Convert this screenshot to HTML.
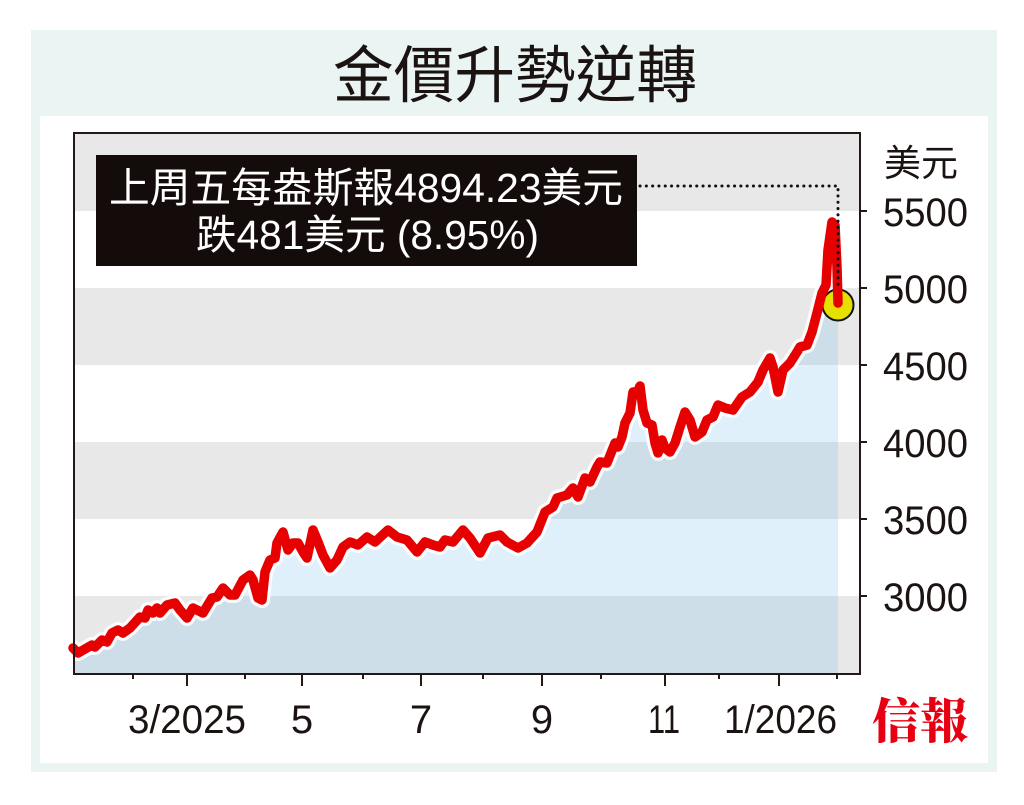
<!DOCTYPE html>
<html><head><meta charset="utf-8"><style>
html,body{margin:0;padding:0;background:#fff;}
svg{display:block;}
</style></head><body>
<svg width="1024" height="805" viewBox="0 0 1024 805" xmlns="http://www.w3.org/2000/svg">
<rect x="0" y="0" width="1024" height="805" fill="#ffffff"/>
<rect x="31" y="30" width="966" height="742" fill="#eaf4f3"/>
<rect x="40" y="116" width="948" height="647" fill="#ffffff"/>
<text x="515" y="97" text-anchor="middle" font-family="'Noto Sans CJK TC','Noto Sans CJK SC',sans-serif" font-size="62" font-weight="400" fill="#1a1311" textLength="364" lengthAdjust="spacingAndGlyphs">金價升勢逆轉</text>
<!-- bands -->
<rect x="74" y="133" width="786" height="541" fill="#ffffff"/>
<rect x="74" y="133" width="786" height="78" fill="#e8e8e8"/>
<rect x="74" y="288" width="786" height="77" fill="#e8e8e8"/>
<rect x="74" y="442" width="786" height="77" fill="#e8e8e8"/>
<rect x="74" y="596" width="786" height="78" fill="#e8e8e8"/>
<!-- fill -->
<polygon fill="rgba(110,187,232,0.22)" points="74,674 73,648 78,653 85,649 92,645 95,647 102,640 107,642 112,633 118,630 123,633 130,628 140,617 145,618 148,610 153,613 157,608 160,613 167,605 175,603 180,610 187,618 193,608 203,613 212,598 217,597 223,588 230,595 235,595 243,580 250,575 253,580 258,598 262,600 265,572 270,560 275,558 277,543 283,532 288,550 293,543 298,543 303,552 307,558 313,530 318,542 323,555 330,568 337,560 343,547 350,542 358,545 367,537 375,542 388,530 397,537 407,540 417,552 425,542 433,545 440,547 445,540 453,542 463,530 470,538 480,553 488,538 500,535 507,542 518,548 527,543 537,532 545,512 553,507 557,498 567,495 573,488 578,497 585,478 590,482 597,467 600,462 607,463 615,443 618,447 622,437 625,423 630,413 633,392 637,393 640,386 643,410 647,423 652,425 655,443 658,453 662,440 665,448 670,452 675,443 680,427 685,412 690,420 695,437 702,432 707,420 713,417 718,405 725,408 733,410 742,397 750,392 758,382 763,370 770,358 773,367 778,392 783,370 790,363 797,352 800,347 807,345 812,332 817,313 822,293 826,285 828,250 832,222 835,225 837,267 838,303 838,674"/>
<!-- halo -->
<polyline fill="none" stroke="#ffffff" stroke-opacity="0.85" stroke-width="16" stroke-linejoin="round" stroke-linecap="round" points="73,648 78,653 85,649 92,645 95,647 102,640 107,642 112,633 118,630 123,633 130,628 140,617 145,618 148,610 153,613 157,608 160,613 167,605 175,603 180,610 187,618 193,608 203,613 212,598 217,597 223,588 230,595 235,595 243,580 250,575 253,580 258,598 262,600 265,572 270,560 275,558 277,543 283,532 288,550 293,543 298,543 303,552 307,558 313,530 318,542 323,555 330,568 337,560 343,547 350,542 358,545 367,537 375,542 388,530 397,537 407,540 417,552 425,542 433,545 440,547 445,540 453,542 463,530 470,538 480,553 488,538 500,535 507,542 518,548 527,543 537,532 545,512 553,507 557,498 567,495 573,488 578,497 585,478 590,482 597,467 600,462 607,463 615,443 618,447 622,437 625,423 630,413 633,392 637,393 640,386 643,410 647,423 652,425 655,443 658,453 662,440 665,448 670,452 675,443 680,427 685,412 690,420 695,437 702,432 707,420 713,417 718,405 725,408 733,410 742,397 750,392 758,382 763,370 770,358 773,367 778,392 783,370 790,363 797,352 800,347 807,345 812,332 817,313 822,293 826,285 828,250 832,222 835,225 837,267 838,303"/>
<!-- circle -->
<circle cx="838" cy="305" r="15.5" fill="#e6e000" stroke="#111" stroke-width="2"/>
<!-- red line -->
<polyline fill="none" stroke="#e60000" stroke-width="9.5" stroke-linejoin="round" stroke-linecap="round" points="73,648 78,653 85,649 92,645 95,647 102,640 107,642 112,633 118,630 123,633 130,628 140,617 145,618 148,610 153,613 157,608 160,613 167,605 175,603 180,610 187,618 193,608 203,613 212,598 217,597 223,588 230,595 235,595 243,580 250,575 253,580 258,598 262,600 265,572 270,560 275,558 277,543 283,532 288,550 293,543 298,543 303,552 307,558 313,530 318,542 323,555 330,568 337,560 343,547 350,542 358,545 367,537 375,542 388,530 397,537 407,540 417,552 425,542 433,545 440,547 445,540 453,542 463,530 470,538 480,553 488,538 500,535 507,542 518,548 527,543 537,532 545,512 553,507 557,498 567,495 573,488 578,497 585,478 590,482 597,467 600,462 607,463 615,443 618,447 622,437 625,423 630,413 633,392 637,393 640,386 643,410 647,423 652,425 655,443 658,453 662,440 665,448 670,452 675,443 680,427 685,412 690,420 695,437 702,432 707,420 713,417 718,405 725,408 733,410 742,397 750,392 758,382 763,370 770,358 773,367 778,392 783,370 790,363 797,352 800,347 807,345 812,332 817,313 822,293 826,285 828,250 832,222 835,225 837,267 838,303"/>
<!-- dotted leader -->
<path d="M640 186 H838 V290" fill="none" stroke="#111" stroke-width="3" stroke-linecap="round" stroke-dasharray="0.1 6.2"/>
<!-- frame -->
<rect x="74" y="133" width="786" height="541" fill="none" stroke="#231815" stroke-width="2"/>
<!-- ticks -->
<g stroke="#231815" stroke-width="2">
<line x1="860" y1="211" x2="867" y2="211"/>
<line x1="860" y1="288" x2="867" y2="288"/>
<line x1="860" y1="365" x2="867" y2="365"/>
<line x1="860" y1="442" x2="867" y2="442"/>
<line x1="860" y1="519" x2="867" y2="519"/>
<line x1="860" y1="596" x2="867" y2="596"/>
<line x1="187" y1="674" x2="187" y2="686"/>
<line x1="302" y1="674" x2="302" y2="686"/>
<line x1="421" y1="674" x2="421" y2="686"/>
<line x1="542" y1="674" x2="542" y2="686"/>
<line x1="665" y1="674" x2="665" y2="686"/>
<line x1="779" y1="674" x2="779" y2="686"/>
<line x1="133" y1="674" x2="133" y2="679"/>
<line x1="245" y1="674" x2="245" y2="679"/>
<line x1="363" y1="674" x2="363" y2="679"/>
<line x1="483" y1="674" x2="483" y2="679"/>
<line x1="601" y1="674" x2="601" y2="679"/>
<line x1="719" y1="674" x2="719" y2="679"/>
<line x1="837" y1="674" x2="837" y2="679"/>
</g>
<!-- labels -->
<g font-family="'Liberation Sans',sans-serif" font-size="40" fill="#1a1311">
<text x="883" y="226" textLength="85" lengthAdjust="spacingAndGlyphs">5500</text>
<text x="883" y="303" textLength="85" lengthAdjust="spacingAndGlyphs">5000</text>
<text x="883" y="380" textLength="85" lengthAdjust="spacingAndGlyphs">4500</text>
<text x="883" y="457" textLength="85" lengthAdjust="spacingAndGlyphs">4000</text>
<text x="883" y="534" textLength="85" lengthAdjust="spacingAndGlyphs">3500</text>
<text x="883" y="611" textLength="85" lengthAdjust="spacingAndGlyphs">3000</text>
<text x="128" y="733" textLength="118" lengthAdjust="spacingAndGlyphs">3/2025</text>
<text x="302" y="733" text-anchor="middle">5</text>
<text x="421" y="733" text-anchor="middle">7</text>
<text x="542" y="733" text-anchor="middle">9</text>
<text x="648" y="733" textLength="32" lengthAdjust="spacingAndGlyphs">11</text>
<text x="724" y="733" textLength="113" lengthAdjust="spacingAndGlyphs">1/2026</text>
</g>
<text x="884" y="176" font-family="'Liberation Sans','Noto Sans CJK TC','Noto Sans CJK SC',sans-serif" font-size="37" fill="#1a1311" textLength="74" lengthAdjust="spacingAndGlyphs">美元</text>
<!-- annotation box -->
<rect x="96" y="155" width="541" height="111" fill="#140c0a"/>
<g font-family="'Liberation Sans','Noto Sans CJK TC','Noto Sans CJK SC',sans-serif" fill="#ffffff" font-size="41">
<text x="109" y="202" textLength="514" lengthAdjust="spacingAndGlyphs">上周五每盎斯報4894.23美元</text>
<text x="196" y="249" textLength="343" lengthAdjust="spacingAndGlyphs">跌481美元 (8.95%)</text>
</g>
<!-- logo -->
<text x="872" y="738" font-family="'Noto Serif CJK SC','Noto Serif CJK TC',serif" font-weight="900" font-size="48" fill="#e60012" textLength="96" lengthAdjust="spacingAndGlyphs">信報</text>
</svg>
</body></html>
